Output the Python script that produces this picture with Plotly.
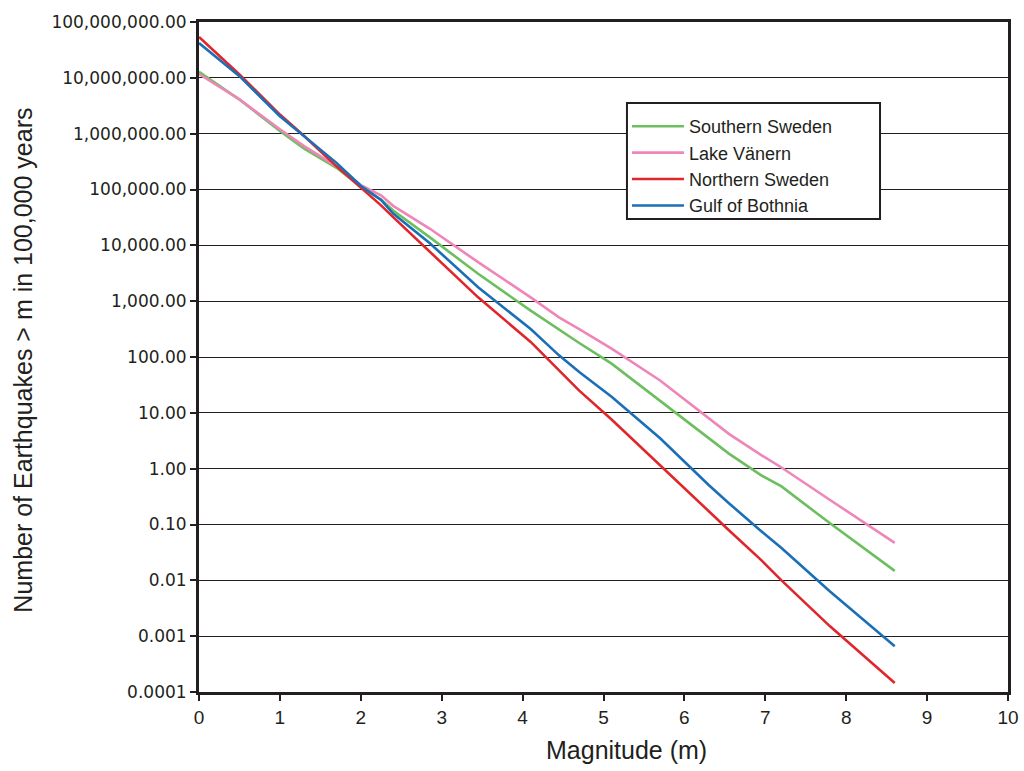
import plotly.graph_objects as go

# Magnitude values at which each cumulative curve was sampled
magnitude = [0, 0.5, 1.0, 1.3, 1.7, 2.0, 2.25, 2.4, 2.85, 3.45, 4.1, 4.45,
             4.7, 5.1, 5.7, 6.3, 6.55, 6.95, 7.2, 7.8, 8.6]

# Number of earthquakes exceeding magnitude m in 100,000 years
southern_sweden = [1.28e7, 4.1e6, 1.12e6, 5.4e5, 2.45e5, 1.12e5, 6.6e4, 4.2e4,
                   1.4e4, 3.1e3, 676, 309, 178, 76, 16.6, 3.5, 1.86, 0.76,
                   0.48, 0.105, 0.0148]
lake_vanern = [1.17e7, 4.1e6, 1.2e6, 6.0e5, 2.6e5, 1.2e5, 7.9e4, 5.1e4,
               2.0e4, 5.0e3, 1.17e3, 513, 316, 141, 38, 7.9, 4.2, 1.75,
               1.05, 0.275, 0.047]
northern_sweden = [5.4e7, 1.15e7, 2.2e6, 9.1e5, 2.6e5, 1.1e5, 5.2e4, 3.2e4,
                   7.8e3, 1.17e3, 186, 57, 25, 7.6, 1.15, 0.17, 0.079, 0.023,
                   0.01, 0.0015, 1.45e-4]
gulf_of_bothnia = [4.2e7, 1.07e7, 2.05e6, 9.1e5, 3.0e5, 1.17e5, 6.5e4, 3.7e4,
                   1.1e4, 1.78e3, 316, 107, 54, 19.5, 3.5, 0.51, 0.24, 0.076,
                   0.038, 0.0063, 6.6e-4]

series_names = ["Southern Sweden", "Lake Vänern", "Northern Sweden", "Gulf of Bothnia"]
series_colors = ["#6cbf5f", "#ef86b8", "#e1262b", "#1b6fb7"]
series_values = [southern_sweden, lake_vanern, northern_sweden, gulf_of_bothnia]

y_tick_values = [1e8, 1e7, 1e6, 1e5, 1e4, 1e3, 1e2, 1e1, 1, 0.1, 0.01, 0.001, 0.0001]
y_tick_labels = ["100,000,000.00", "10,000,000.00", "1,000,000.00", "100,000.00",
                 "10,000.00", "1,000.00", "100.00", "10.00", "1.00", "0.10",
                 "0.01", "0.001", "0.0001"]

text_color = "#231f20"
sans = "Liberation Sans, Arial, sans-serif"

fig = go.Figure()
for name, color, values in zip(series_names, series_colors, series_values):
    fig.add_trace(go.Scatter(x=magnitude, y=values, mode="lines", name=name,
                             line=dict(color=color, width=2.6)))

fig.update_layout(
    width=1024, height=771,
    margin=dict(l=199, r=16, t=22, b=79),
    paper_bgcolor="white", plot_bgcolor="white",
    font=dict(family=sans, color=text_color),
    showlegend=True,
    legend=dict(x=0.529, y=0.8716, xanchor="left", yanchor="top",
                bgcolor="rgba(0,0,0,0)", borderwidth=0,
                font=dict(size=18, family=sans),
                tracegroupgap=0, itemwidth=52),
    # framed white panel behind the legend entries
    shapes=[
        dict(type="rect", xref="paper", yref="paper",
             x0=0.529, x1=0.8418, y0=0.706, y1=0.879,
             fillcolor="white", line=dict(color=text_color, width=2),
             layer="above"),
    ],
    annotations=[
        dict(text="Magnitude (m)", xref="paper", yref="paper",
             x=0.529, y=-0.0866, xanchor="center", yanchor="middle",
             showarrow=False, font=dict(size=25, family=sans, color=text_color)),
        dict(text="Number of Earthquakes > m in 100,000 years",
             xref="paper", yref="paper", x=-0.2176, y=0.496,
             xanchor="center", yanchor="middle", textangle=-90,
             showarrow=False, font=dict(size=25, family=sans, color=text_color)),
    ],
)

fig.update_xaxes(
    range=[0, 10], dtick=1, tick0=0, automargin=False,
    showgrid=False, zeroline=False,
    showline=True, linecolor=text_color, linewidth=3, mirror=True,
    ticks="outside", ticklen=6, tickcolor=text_color, tickwidth=1.5,
    tickfont=dict(size=19),
)

fig.update_yaxes(
    type="log", range=[-4, 8], automargin=False,
    tickvals=y_tick_values, ticktext=y_tick_labels,
    showgrid=True, gridcolor=text_color, gridwidth=1.2,
    zeroline=False,
    showline=True, linecolor=text_color, linewidth=3, mirror=True,
    ticks="outside", ticklen=6, tickcolor=text_color, tickwidth=1.5,
    tickfont=dict(size=17, family="DejaVu Sans, Verdana, sans-serif"),
)

fig.write_html("out.html")
